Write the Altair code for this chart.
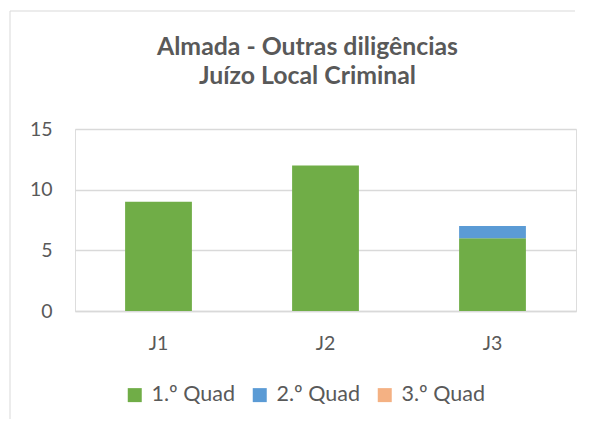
import altair as alt
import pandas as pd

categories = ["J1", "J2", "J3"]
series = ["1.º Quad", "2.º Quad", "3.º Quad"]
q1 = [9, 12, 6]
q2 = [0, 0, 1]
q3 = [0, 0, 0]
colors = ["#70AD47", "#5B9BD5", "#F4B183"]

rows = []
for i, c in enumerate(categories):
    for s_idx, (s, vals) in enumerate(zip(series, [q1, q2, q3])):
        rows.append({"Juizo": c, "Serie": s, "Valor": vals[i], "ordem": s_idx})
df = pd.DataFrame(rows)

FONT = "Lato"
GREY = "#595959"
BORDER = "#D9D9D9"

bars = alt.Chart(df).mark_bar().encode(
    x=alt.X("Juizo:N", sort=categories, title=None,
            scale=alt.Scale(paddingInner=0.6, paddingOuter=0.3),
            axis=alt.Axis(labelAngle=0, ticks=False, domain=True, domainColor=BORDER,
                          domainWidth=1.5, labelPadding=23, labelFontSize=19.5,
                          labelColor=GREY, labelFont=FONT, grid=False)),
    y=alt.Y("Valor:Q", stack="zero", title=None,
            scale=alt.Scale(domain=[0, 15], nice=False),
            axis=alt.Axis(values=[0, 5, 10, 15], ticks=False, domain=False,
                          gridColor=BORDER, gridWidth=1.5, labelPadding=23,
                          labelFontSize=19.5, labelColor=GREY, labelFont=FONT)),
    color=alt.Color("Serie:N", sort=series,
                    scale=alt.Scale(domain=series, range=colors),
                    legend=alt.Legend(title=None, orient="none", direction="horizontal",
                                      legendX=49, legendY=255, symbolType="square",
                                      symbolSize=196, symbolStrokeWidth=0,
                                      labelFontSize=21.5, labelColor=GREY, labelFont=FONT,
                                      labelOffset=6, columnPadding=14, padding=0)),
    order=alt.Order("ordem:Q", sort="ascending"),
)

frame_top = alt.Chart(alt.Data(values=[{}])).mark_rule(
    stroke=BORDER, strokeWidth=1
).encode(x=alt.value(-65), x2=alt.value(500), y=alt.value(-118))

frame_left = alt.Chart(alt.Data(values=[{}])).mark_rule(
    stroke=BORDER, strokeWidth=1
).encode(x=alt.value(-65), y=alt.value(-118), y2=alt.value(290))

chart = alt.layer(frame_top, frame_left, bars).properties(
    width=501,
    height=182,
    title=alt.TitleParams(
        text=["Almada - Outras diligências", "Juízo Local Criminal"],
        font=FONT, fontSize=24.8, fontWeight="bold", color=GREY,
        anchor="middle", dx=-18, lineHeight=29, offset=-78,
    ),
    padding={"left": 67, "top": 121, "right": 8, "bottom": 109},
    autosize=alt.AutoSizeParams(type="none"),
).configure_view(stroke=None).configure(background="white")

chart.save("out.html", embed_options={"renderer": "svg", "actions": False})
